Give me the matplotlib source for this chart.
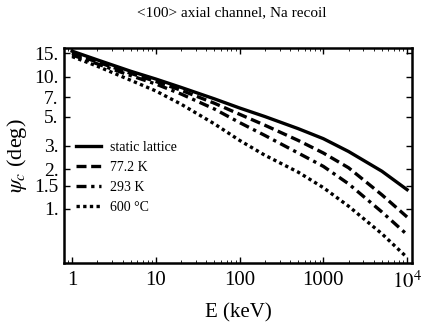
import matplotlib
matplotlib.use("Agg")
import matplotlib.pyplot as plt
import numpy as np

plt.rcParams['font.family'] = ['Liberation Serif', 'DejaVu Serif']
plt.rcParams['mathtext.fontset'] = 'stix'

energy = [1, 2, 5, 10, 20, 50, 100, 200, 500, 1000, 2000, 5000, 10000]
static = [15.6, 13.4, 11.0, 9.6, 8.3, 6.8, 5.8, 5.0, 4.05, 3.4, 2.72, 1.93, 1.4]
k77 = [15.0, 12.9, 10.6, 9.2, 7.9, 6.3, 5.2, 4.3, 3.3, 2.65, 2.05, 1.28, 0.87]
k293 = [14.6, 12.5, 10.2, 8.8, 7.4, 5.7, 4.5, 3.6, 2.65, 2.1, 1.55, 0.95, 0.64]
c600 = [14.2, 12.0, 9.4, 7.8, 6.2, 4.4, 3.3, 2.55, 1.9, 1.45, 1.05, 0.65, 0.43]
labels = ["static lattice", "77.2 K", "293 K", "600 °C"]

ytick_vals = [1, 1.5, 2, 3, 5, 7, 10, 15]
ytick_labels = ["1.", "1.5", "2.", "3.", "5.", "7.", "10.", "15."]
xtick_vals = [1, 10, 100, 1000, 10000]
xtick_labels = ["1", "10", "100", "1000", r"$10^4$"]

fig = plt.figure(figsize=(4.21, 3.26), dpi=100)
ax = fig.add_axes([0.152, 0.193, 0.827, 0.660])

lw = 2.4
ax.plot(energy, static, color='black', lw=lw, ls='-', label=labels[0])
ax.plot(energy, k77, color='black', lw=lw, ls=(0, (3, 1.4)), label=labels[1])
ax.plot(energy, k293, color='black', lw=lw, ls=(0, (3, 1.4, 1, 1.4)), label=labels[2])
ax.plot(energy, c600, color='black', lw=lw, ls=(0, (1, 1)), label=labels[3])

ax.set_xscale('log')
ax.set_yscale('log')
ax.set_xlim(0.8, 11500)
ax.set_ylim(0.39, 16.5)

ax.set_yticks(ytick_vals)
ax.set_yticklabels(ytick_labels)
ax.set_xticks(xtick_vals)
ax.set_xticklabels(xtick_labels)
ax.yaxis.set_minor_locator(matplotlib.ticker.NullLocator())

ax.tick_params(which='both', direction='in', top=True, right=True)
ax.tick_params(axis='y', which='major', length=4, width=1, pad=4, labelsize=14)
ax.tick_params(axis='x', which='major', length=4, width=1, pad=6, labelsize=15)
ax.tick_params(which='minor', length=2, width=0.6)
for s in ax.spines.values():
    s.set_linewidth(1.8)

ax.set_xlabel("E (keV)", fontsize=15, labelpad=7)
ax.set_ylabel(r"$\psi_c$ (deg)", fontsize=16, labelpad=4)
fig.text(0.55, 0.962, "<100> axial channel, Na recoil", ha='center', va='center', fontsize=11)

leg = ax.legend(loc='upper left', bbox_to_anchor=(0.0, 0.625), frameon=False,
                fontsize=10, handlelength=1.8, handletextpad=0.6, labelspacing=0.5)

fig.savefig("out.png", dpi=100)
